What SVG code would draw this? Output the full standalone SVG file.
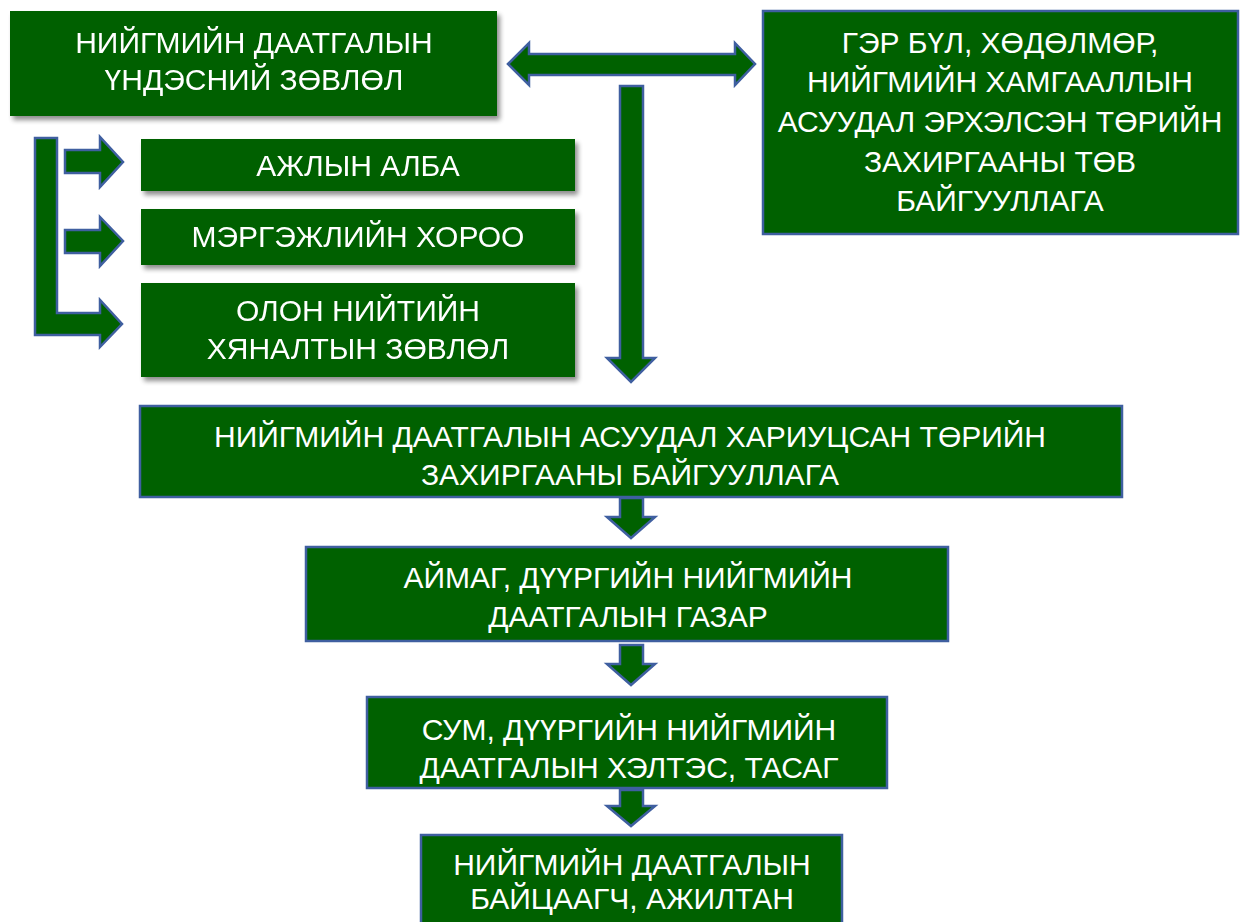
<svg xmlns="http://www.w3.org/2000/svg" width="1241" height="922" viewBox="0 0 1241 922">
<defs>
<filter id="sh" x="-5%" y="-10%" width="115%" height="130%">
<feGaussianBlur in="SourceAlpha" stdDeviation="2.5"/>
<feOffset dx="3" dy="4" result="b"/>
<feComponentTransfer><feFuncA type="linear" slope="0.45"/></feComponentTransfer>
<feMerge><feMergeNode/><feMergeNode in="SourceGraphic"/></feMerge>
</filter>
</defs>
<style>
.box{fill:#006100}
.bb{fill:#006100;stroke:#3F5FA0;stroke-width:2.5}
.arr{fill:#006100;stroke:#3F5FA0;stroke-width:2.5;stroke-linejoin:miter}
text{font-family:"Liberation Sans",Arial,sans-serif;font-size:30px;fill:#ffffff;text-anchor:middle}
</style>
<rect width="1241" height="922" fill="#ffffff"/>
<g id="connectors">
<path class="arr" d="M508,64 L529,43 L529,54 L735,54 L735,43 L755,64 L735,85 L735,75 L529,75 L529,85 Z"/>
<path class="arr" d="M620,86 L643,86 L643,358 L655,358 L631,382 L607,358 L620,358 Z"/>
<path class="arr" d="M35,138 L57,138 L57,313 L100,313 L100,300 L122,324 L100,347 L100,335 L35,335 Z"/>
<path class="arr" d="M65,150 L100,150 L100,137 L123,162 L100,187 L100,173 L65,173 Z"/>
<path class="arr" d="M65,230 L100,230 L100,217 L123,241 L100,266 L100,253 L65,253 Z"/>
<path class="arr" d="M620,498 L643,498 L643,517 L655,517 L631,538 L607,517 L620,517 Z"/>
<path class="arr" d="M620,645 L643,645 L643,664 L655,664 L631,685 L607,664 L620,664 Z"/>
<path class="arr" d="M620,790 L643,790 L643,806 L655,806 L631,826 L607,806 L620,806 Z"/>
</g>
<g id="n1" filter="url(#sh)">
<rect class="box" x="10" y="11" width="487" height="105"/>
<text x="254" y="53">НИЙГМИЙН ДААТГАЛЫН</text>
<text x="254" y="90">ҮНДЭСНИЙ ЗӨВЛӨЛ</text>
</g>
<g id="n2">
<rect class="bb" x="763" y="11" width="475" height="223"/>
<text x="1000" y="53">ГЭР БҮЛ, ХӨДӨЛМӨР,</text>
<text x="1000" y="92">НИЙГМИЙН ХАМГААЛЛЫН</text>
<text x="1000" y="132">АСУУДАЛ ЭРХЭЛСЭН ТӨРИЙН</text>
<text x="1000" y="172">ЗАХИРГААНЫ ТӨВ</text>
<text x="1000" y="211">БАЙГУУЛЛАГА</text>
</g>
<g id="n3" filter="url(#sh)">
<rect class="box" x="141" y="139" width="434" height="52"/>
<text x="358" y="176">АЖЛЫН АЛБА</text>
</g>
<g id="n4" filter="url(#sh)">
<rect class="box" x="141" y="209" width="434" height="56"/>
<text x="358" y="247">МЭРГЭЖЛИЙН ХОРОО</text>
</g>
<g id="n5" filter="url(#sh)">
<rect class="box" x="141" y="283" width="434" height="94"/>
<text x="358" y="321">ОЛОН НИЙТИЙН</text>
<text x="358" y="359">ХЯНАЛТЫН ЗӨВЛӨЛ</text>
</g>
<g id="n6">
<rect class="bb" x="140" y="406" width="982" height="91"/>
<text x="630" y="447">НИЙГМИЙН ДААТГАЛЫН АСУУДАЛ ХАРИУЦСАН ТӨРИЙН</text>
<text x="630" y="485">ЗАХИРГААНЫ БАЙГУУЛЛАГА</text>
</g>
<g id="n7">
<rect class="bb" x="306" y="547" width="642" height="94"/>
<text x="628" y="588">АЙМАГ, ДҮҮРГИЙН НИЙГМИЙН</text>
<text x="628" y="627">ДААТГАЛЫН ГАЗАР</text>
</g>
<g id="n8">
<rect class="bb" x="367" y="697" width="520" height="91"/>
<text x="629" y="740">СУМ, ДҮҮРГИЙН НИЙГМИЙН</text>
<text x="629" y="778">ДААТГАЛЫН ХЭЛТЭС, ТАСАГ</text>
</g>
<g id="n9">
<rect class="bb" x="421" y="835" width="421" height="95"/>
<text x="632" y="875">НИЙГМИЙН ДААТГАЛЫН</text>
<text x="632" y="909">БАЙЦААГЧ, АЖИЛТАН</text>
</g>
</svg>
